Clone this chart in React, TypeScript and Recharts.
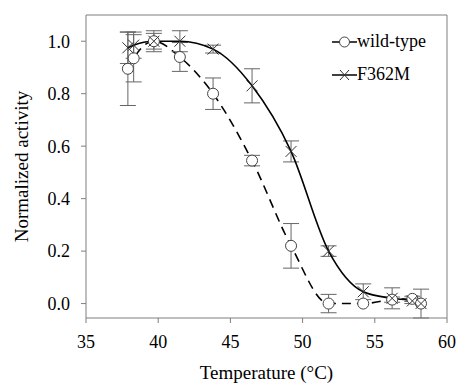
import { LineChart, Line, XAxis, YAxis, ErrorBar, ReferenceLine, Label } from 'recharts';

const temps = [37.9, 38.3, 39.7, 41.5, 43.8, 46.5, 49.2, 51.8, 54.2, 56.2, 57.6, 58.2];
const wildType = [0.895, 0.935, 1.0, 0.94, 0.8, 0.545, 0.22, 0.0, 0.0, 0.015, 0.018, 0.0];
const wildTypeErr = [0.14, 0.09, 0.04, 0.055, 0.06, 0.02, 0.085, 0.035, 0.0, 0.01, 0.01, 0.0];
const f362m = [0.975, 0.985, 1.0, 1.0, 0.97, 0.83, 0.58, 0.2, 0.045, 0.02, 0.01, 0.0];
const f362mErr = [0.06, 0.05, 0.03, 0.04, 0.015, 0.065, 0.04, 0.02, 0.03, 0.04, 0.01, 0.055];
const xTicks = [35, 40, 45, 50, 55, 60];
const yTicks = [0, 0.2, 0.4, 0.6, 0.8, 1.0];

const wtData = temps.map((t, i) => ({ t, v: wildType[i], err: wildTypeErr[i] }));
const fData = temps.map((t, i) => ({ t, v: f362m[i], err: f362mErr[i] }));

const font = 'Liberation Serif';
const axisGrey = '#7f7f7f';

const CircleDot = (props: any) => {
  const { cx, cy } = props;
  if (cx == null || cy == null) return null;
  return <circle cx={cx} cy={cy} r={5.5} fill="#fff" stroke="#444" strokeWidth={1} />;
};

const CrossDot = (props: any) => {
  const { cx, cy } = props;
  if (cx == null || cy == null) return null;
  const s = 5.5;
  return (
    <g stroke="#333" strokeWidth={1}>
      <line x1={cx - s} y1={cy - s} x2={cx + s} y2={cy + s} />
      <line x1={cx - s} y1={cy + s} x2={cx + s} y2={cy - s} />
    </g>
  );
};

const XTick = (props: any) => {
  const { x, y, payload } = props;
  return (
    <text x={x} y={y} dy="0.71em" textAnchor="middle" fontFamily={font} fontSize={18} fill="#000">
      {payload.value}
    </text>
  );
};

const YTick = (props: any) => {
  const { x, y, payload } = props;
  return (
    <text x={x} y={y} dy="0.355em" textAnchor="end" fontFamily={font} fontSize={18} fill="#000">
      {Number(payload.value).toFixed(1)}
    </text>
  );
};

const XLabel = (props: any) => {
  const { x, y, width, height } = props.viewBox;
  return (
    <text x={x + width / 2} y={y + height - 5} textAnchor="middle" fontFamily={font} fontSize={19} fill="#000">
      Temperature (°C)
    </text>
  );
};

const YLabel = (props: any) => {
  const { y, height } = props.viewBox;
  const cy = y + height / 2;
  return (
    <text
      x={28}
      y={cy}
      transform={`rotate(-90 28 ${cy})`}
      textAnchor="middle"
      fontFamily={font}
      fontSize={19}
      fill="#000"
    >
      Normalized activity
    </text>
  );
};

const LegendBox = () => (
  <div
    style={{
      position: 'absolute',
      left: 332,
      top: 25,
      fontFamily: font,
      fontSize: 18,
      color: '#000',
      lineHeight: '33px',
    }}
  >
    <div style={{ display: 'flex', alignItems: 'center' }}>
      <svg width={25} height={14}>
        <line x1={0} y1={7} x2={25} y2={7} stroke="#000" strokeWidth={1.5} />
        <circle cx={12.5} cy={7} r={5} fill="#fff" stroke="#444" />
      </svg>
      <span>wild-type</span>
    </div>
    <div style={{ display: 'flex', alignItems: 'center' }}>
      <svg width={25} height={14}>
        <line x1={0} y1={7} x2={25} y2={7} stroke="#000" strokeWidth={1.5} />
        <line x1={8} y1={2} x2={17} y2={12} stroke="#333" />
        <line x1={8} y1={12} x2={17} y2={2} stroke="#333" />
      </svg>
      <span>F362M</span>
    </div>
  </div>
);

export default function App() {
  return (
    <div style={{ position: 'absolute', left: 0, top: 0, width: 457, height: 384, background: '#fff' }}>
      <LineChart width={457} height={384} margin={{ top: 15, right: 10, left: 0, bottom: 0 }}>
        <XAxis
          type="number"
          dataKey="t"
          domain={[35, 60]}
          ticks={xTicks}
          allowDuplicatedCategory={false}
          height={66}
          stroke={axisGrey}
          tickSize={5}
          tickMargin={12}
          tick={<XTick />}
        >
          <Label content={<XLabel />} />
        </XAxis>
        <YAxis
          type="number"
          domain={[0, 1.1]}
          ticks={yTicks}
          width={86}
          stroke={axisGrey}
          tickSize={5}
          tickMargin={11}
          tick={<YTick />}
        >
          <Label content={<YLabel />} />
        </YAxis>
        <ReferenceLine y={1.1} stroke={axisGrey} />
        <ReferenceLine x={60} stroke={axisGrey} />
        <Line
          data={wtData}
          dataKey="v"
          name="wild-type"
          type="monotone"
          stroke="#000"
          strokeWidth={1.6}
          strokeDasharray="9 6"
          dot={<CircleDot />}
          activeDot={false}
          isAnimationActive={false}
        >
          <ErrorBar dataKey="err" width={8} stroke="#666" strokeWidth={1} direction="y" />
        </Line>
        <Line
          data={fData}
          dataKey="v"
          name="F362M"
          type="monotone"
          stroke="#000"
          strokeWidth={1.6}
          dot={<CrossDot />}
          activeDot={false}
          isAnimationActive={false}
        >
          <ErrorBar dataKey="err" width={8} stroke="#666" strokeWidth={1} direction="y" />
        </Line>
      </LineChart>
      <LegendBox />
    </div>
  );
}
